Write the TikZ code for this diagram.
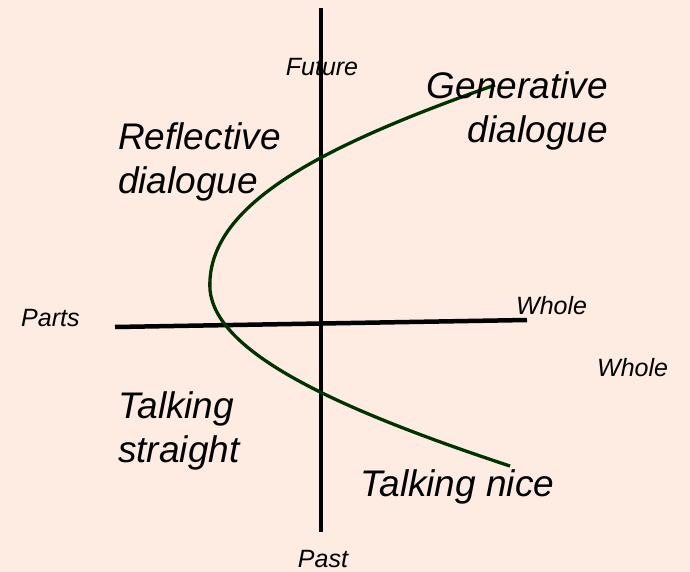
\documentclass[tikz,border=0pt]{standalone}
\usepackage{fontspec}
\setmainfont{Liberation Sans}
\begin{document}
\begin{tikzpicture}[x=1pt,y=-1pt,
  big/.style={font=\fontsize{37}{44}\selectfont\itshape, inner sep=0pt},
  small/.style={font=\fontsize{25}{28}\selectfont\itshape, inner sep=0pt},
  axis/.style={line width=4.5pt, black},
  curve/.style={line width=3.3pt, draw={rgb,255:red,0;green,51;blue,0}}]
\definecolor{bg}{RGB}{254,235,225}
\fill[bg] (0,0) rectangle (690,572);
\useasboundingbox (0,0) rectangle (690,572);
% axes
\coordinate (vt) at (321,8);
\coordinate (vb) at (321,532);
\coordinate (hl) at (115,327);
\coordinate (hr) at (527,320);
\draw[axis] (vt) -- (vb);
\draw[axis] (hl) -- (hr);
% curve
\coordinate (c0) at (495,85);
\coordinate (c1) at (210,290);
\coordinate (c2) at (510,466);
\draw[curve] (c0) .. controls (322,146) and (205,205) .. (c1)
             .. controls (216,350) and (325,405) .. (c2);
% labels
\node[small] (future) at (322,67) {Future};
\node[small] (past) at (323,559) {Past};
\node[small, anchor=west] (parts) at (21,318) {Parts};
\node[small, anchor=west] (whole1) at (516,306) {Whole};
\node[small, anchor=west] (whole2) at (597,368) {Whole};
\node[big, anchor=east, align=right] (gen) at (608,111) {Generative\\dialogue};
\node[big, anchor=west, align=left] (refl) at (118,162) {Reflective\\dialogue};
\node[big, anchor=west, align=left] (ts) at (118,431) {Talking\\straight};
\node[big, anchor=west] (tn) at (360,487) {Talking nice};
\end{tikzpicture}
\end{document}
